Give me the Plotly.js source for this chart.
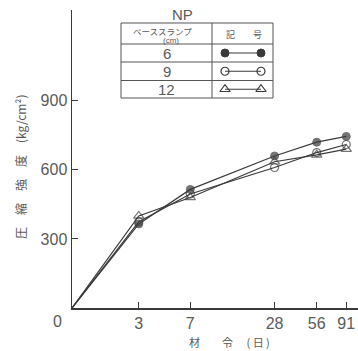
<!DOCTYPE html>
<html>
<head>
<meta charset="utf-8">
<script src="https://cdn.plot.ly/plotly-3.0.1.min.js"></script>
<style>
  html, body { margin: 0; padding: 0; background: #ffffff; }
  #chart { width: 358px; height: 351px; }
</style>
</head>
<body>
<div id="chart"></div>
<script>
// ---- data ----
const ages = [0, 3, 7, 28, 56, 91];           // 材令 (日)
const slump6 = [0, 365, 515, 660, 720, 745];  // ベーススランプ 6 cm
const slump9 = [0, 375, 495, 610, 675, 710];  // ベーススランプ 9 cm
const slump12 = [0, 400, 480, 635, 665, 690]; // ベーススランプ 12 cm
const seriesNames = ['6', '9', '12'];
const xTickAges = [3, 7, 28, 56, 91];
const yTickVals = [300, 600, 900];
const xTitle = '材　　令　 ( 日 )';
const yTitle = '圧　縮　強　度　(kg/cm²)';

// ---- styling ----
const ink = '#3a3a3a';
const textCol = '#5a5a5a';
const latin = '"Liberation Sans", Arial, sans-serif';
const cjk = '"Noto Sans CJK JP", sans-serif';

// The chart uses a log age scale whose origin (labelled 0) sits where age 1 would be.
const toAxis = a => (a === 0 ? 1 : a);
const xs = ages.map(toAxis);

const markerStyles = [
  {symbol: 'circle', size: 8, color: ink, line: {color: ink, width: 1}},
  {symbol: 'circle-open', size: 8, color: ink, line: {color: ink, width: 1.2}},
  {symbol: 'triangle-up-open', size: 9, color: ink, line: {color: ink, width: 1.2}}
];
const seriesVals = [slump6, slump9, slump12];

const traces = seriesVals.map((vals, i) => ({
  x: xs, y: vals, type: 'scatter', mode: 'lines+markers',
  name: seriesNames[i],
  line: {color: ink, width: 1.2},
  marker: Object.assign({}, markerStyles[i]),
  showlegend: false, cliponaxis: false
}));
// hide the marker at the origin point
traces.forEach(t => { t.marker.size = t.x.map((v, k) => k === 0 ? 0 : t.marker.size); });

// ---- legend table (drawn on an overlay axis measured in pixels of the plot area) ----
const T = {left: 121, right: 273, top: 23, bottom: 98, mid: 212, rows: [44, 62, 80.5]};
const rowEdges = [T.rows[0], T.rows[1], T.rows[2], T.bottom];
const rowCenters = [0, 1, 2].map(i => (rowEdges[i] + rowEdges[i + 1]) / 2);
const symL = 225, symR = 261;

seriesNames.forEach((n, i) => {
  traces.push({
    x: [symL, symR], y: [rowCenters[i], rowCenters[i]], xaxis: 'x2', yaxis: 'y2',
    type: 'scatter', mode: 'lines+markers', showlegend: false, hoverinfo: 'skip',
    line: {color: ink, width: 1.2}, marker: Object.assign({}, markerStyles[i]), cliponaxis: false
  });
});

const shapes = [
  {type: 'rect', xref: 'x2', yref: 'y2', x0: T.left, x1: T.right, y0: T.top, y1: T.bottom,
   line: {color: '#555', width: 1}},
  {type: 'line', xref: 'x2', yref: 'y2', x0: T.mid, x1: T.mid, y0: T.top, y1: T.bottom,
   line: {color: '#555', width: 1}}
].concat(T.rows.map(r => ({type: 'line', xref: 'x2', yref: 'y2', x0: T.left, x1: T.right, y0: r, y1: r,
   line: {color: '#555', width: 1}})));

const annotations = [
  {xref: 'x2', yref: 'y2', x: 182, y: 14, text: 'NP', showarrow: false,
   font: {family: latin, size: 15, color: textCol}},
  {xref: 'x2', yref: 'y2', x: 162, y: 30.5, text: 'ベーススランプ', showarrow: false,
   font: {family: cjk, size: 8.5, color: textCol}},
  {xref: 'x2', yref: 'y2', x: 171, y: 40, text: '(cm)', showarrow: false,
   font: {family: latin, size: 8, color: textCol}},
  {xref: 'x2', yref: 'y2', x: 244, y: 34, text: '記　　号', showarrow: false,
   font: {family: cjk, size: 9, color: textCol}},
  {xref: 'paper', yref: 'paper', x: -0.052, y: -0.045, xanchor: 'center', yanchor: 'middle',
   text: '0', showarrow: false, font: {family: latin, size: 16, color: textCol}},
  // axis titles
  {xref: 'paper', yref: 'paper', x: 0.552, y: -0.114, xanchor: 'center', yanchor: 'middle',
   text: xTitle, showarrow: false, font: {family: cjk, size: 11, color: textCol}},
  {xref: 'paper', yref: 'paper', x: -0.182, y: 0.473, xanchor: 'center', yanchor: 'middle',
   text: yTitle, textangle: -90, showarrow: false, font: {family: cjk, size: 12, color: textCol}}
].concat(seriesNames.map((n, i) => ({
  xref: 'x2', yref: 'y2', x: (T.left + T.mid) / 2, y: rowCenters[i], text: n, showarrow: false,
  font: {family: latin, size: 15, color: textCol}
})));

const layout = {
  width: 358, height: 351,
  margin: {l: 72, r: 0, t: 10, b: 43},
  paper_bgcolor: '#ffffff', plot_bgcolor: '#ffffff',
  showlegend: false,
  xaxis: {
    type: 'log', range: [0, 2.043],
    tickvals: xTickAges, ticktext: xTickAges.map(String),
    ticks: 'inside', ticklen: 6, tickcolor: ink, tickwidth: 1,
    showline: true, linecolor: ink, linewidth: 1.5,
    showgrid: false, zeroline: false,
    tickfont: {family: latin, size: 16, color: textCol}
  },
  yaxis: {
    range: [0, 1294],
    tickvals: yTickVals, ticktext: yTickVals.map(String),
    ticks: 'inside', ticklen: 6, tickcolor: ink, tickwidth: 1,
    showline: true, linecolor: ink, linewidth: 1.5,
    showgrid: false, zeroline: false,
    tickfont: {family: latin, size: 16, color: textCol}
  },
  xaxis2: {overlaying: 'x', range: [72, 358], visible: false, fixedrange: true},
  yaxis2: {overlaying: 'y', range: [308, 10], visible: false, fixedrange: true},
  shapes: shapes,
  annotations: annotations
};

Plotly.newPlot('chart', traces, layout, {staticPlot: true, displayModeBar: false});
</script>
</body>
</html>
